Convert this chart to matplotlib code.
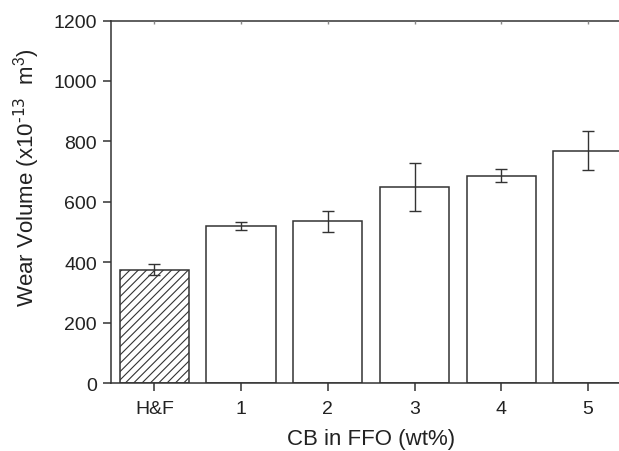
import matplotlib

matplotlib.use("Agg")

import matplotlib.pyplot as plt

plt.rcParams["font.family"] = ["Liberation Sans", "DejaVu Sans"]
plt.rcParams["hatch.linewidth"] = 0.8
plt.rcParams["hatch.color"] = "#333333"

# wear volume per sample (x10^-13 m^3)
categories = ["H&F", "1", "2", "3", "4", "5"]
wear_volume = [375, 521, 536, 649, 687, 770]
wear_err = [18, 13, 34, 79, 22, 66]

LINE = "#333333"
TEXT = "#222222"

fig = plt.figure(figsize=(6.19, 4.52), dpi=100)
ax = fig.add_axes([0.1793, 0.1498, 0.8406, 0.8026])

pos = list(range(len(categories)))
bars = ax.bar(pos, wear_volume, width=0.8, color="white", edgecolor=LINE,
              linewidth=1.1, zorder=2)
bars[0].set_hatch("////")
ax.errorbar(pos, wear_volume, yerr=wear_err, fmt="none", ecolor=LINE,
            elinewidth=1.0, capsize=4.5, capthick=1.0, zorder=3)

ax.set_xlim(-0.5, 5.5)
ax.set_ylim(0, 1200)
ax.set_xticks(pos)
ax.set_xticklabels(categories)
ax.set_yticks(range(0, 1201, 200))

for side in ("left", "bottom", "top"):
    ax.spines[side].set_linewidth(1.1)
    ax.spines[side].set_color(LINE)
ax.spines["right"].set_visible(False)

ax.tick_params(axis="both", direction="out", length=6, width=1.1,
               color=LINE, labelsize=14, labelcolor=TEXT, pad=4)
ax.tick_params(axis="x", pad=6)

# small inward marks along the top edge
top = ax.twiny()
top.set_xlim(ax.get_xlim())
top.set_xticks(pos)
top.set_xticklabels([])
top.tick_params(axis="x", direction="in", length=2, width=1.0, color="#888888")
for side in ("left", "right", "bottom", "top"):
    top.spines[side].set_visible(False)

ax.set_xlabel("CB in FFO (wt%)", fontsize=16, color=TEXT, labelpad=8)
ax.set_ylabel(r"Wear Volume (x10$^{\text{-13}}$  m$^{\mathregular{3}}$)",
              fontsize=16, color=TEXT)
ax.yaxis.set_label_coords(-0.133, 0.57)

fig.savefig("out.png", dpi=100, facecolor="white")
